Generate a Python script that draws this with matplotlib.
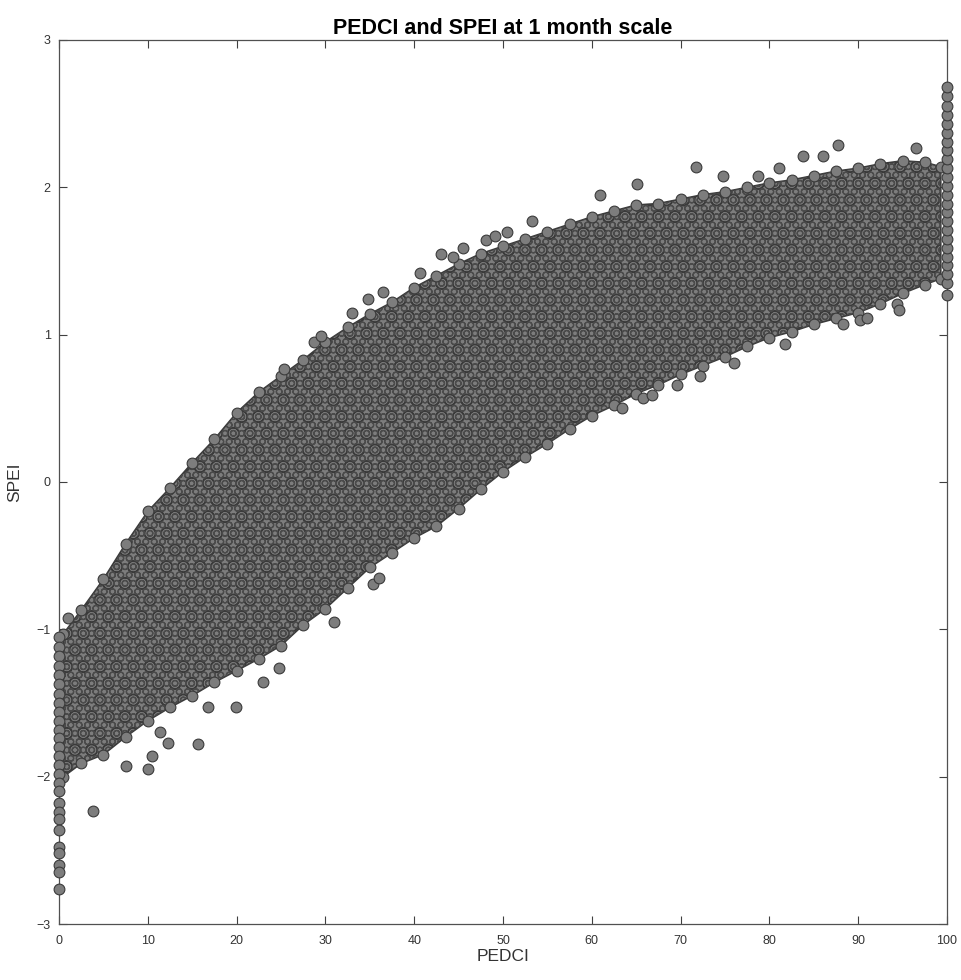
import matplotlib
matplotlib.use("Agg")
import matplotlib.pyplot as plt
import numpy as np

plt.rcParams['font.family'] = ['Liberation Sans', 'DejaVu Sans']
plt.rcParams['hatch.linewidth'] = 0.9

# ---- data ----
# core point-cloud envelope (PEDCI vs SPEI)
env_x = [0.5, 2.5, 5, 7.5, 10, 12.5, 15, 17.5, 20, 22.5, 25, 27.5, 30, 32.5, 35, 37.5,
         40, 42.5, 45, 47.5, 50, 52.5, 55, 57.5, 60, 62.5, 65, 67.5, 70, 72.5, 75,
         77.5, 80, 82.5, 85, 87.5, 90, 92.5, 95, 97.5, 99.3]
env_upper = [-1.03, -0.87, -0.66, -0.42, -0.20, -0.04, 0.13, 0.29, 0.47, 0.61, 0.72, 0.83,
             0.95, 1.05, 1.14, 1.22, 1.32, 1.40, 1.48, 1.55, 1.60, 1.65, 1.70, 1.75, 1.80,
             1.84, 1.88, 1.89, 1.92, 1.95, 1.97, 2.00, 2.03, 2.05, 2.08, 2.11, 2.13, 2.16,
             2.18, 2.17, 2.14]
env_lower = [-2.00, -1.91, -1.85, -1.73, -1.62, -1.53, -1.45, -1.36, -1.28, -1.20, -1.11,
             -0.97, -0.86, -0.72, -0.58, -0.48, -0.38, -0.30, -0.18, -0.05, 0.07, 0.17,
             0.26, 0.36, 0.45, 0.52, 0.60, 0.66, 0.73, 0.79, 0.85, 0.92, 0.98, 1.02, 1.07,
             1.11, 1.15, 1.21, 1.28, 1.34, 1.38]

# stacked points at PEDCI = 0 and PEDCI = 100
col0_y = [-1.05, -1.12, -1.18, -1.25, -1.31, -1.37, -1.44, -1.50, -1.56, -1.62, -1.68,
          -1.74, -1.80, -1.86, -1.92, -1.98, -2.04, -2.10, -2.18, -2.24, -2.29, -2.36,
          -2.48, -2.52, -2.60, -2.65, -2.76]
col100_y = [1.27, 1.35, 1.41, 1.47, 1.53, 1.59, 1.65, 1.71, 1.77, 1.83, 1.89, 1.95, 2.01,
            2.07, 2.13, 2.19, 2.25, 2.31, 2.37, 2.43, 2.49, 2.55, 2.62, 2.68]

# isolated points outside the dense cloud
out_x = [3.8, 7.5, 10.0, 10.5, 11.4, 12.3, 15.7, 16.8, 19.9, 23.0, 24.8, 31.0, 35.4, 36.0,
         63.4, 65.8, 66.8, 69.6, 72.2, 76.0, 81.8, 88.3, 90.2, 91.0, 94.4, 94.6,
         1.0, 25.3, 28.7, 29.5, 33.0, 34.8, 36.5, 40.7, 43.0, 44.4, 45.5, 48.1, 49.1,
         50.5, 53.3, 60.9, 65.1, 71.7, 74.8, 78.7, 81.1, 83.8, 86.0, 87.7, 96.5]
out_y = [-2.23, -1.93, -1.95, -1.86, -1.70, -1.77, -1.78, -1.53, -1.53, -1.36, -1.26, -0.95,
         -0.69, -0.65, 0.50, 0.57, 0.59, 0.66, 0.72, 0.81, 0.94, 1.07, 1.10, 1.11, 1.21, 1.17,
         -0.92, 0.77, 0.95, 0.99, 1.15, 1.24, 1.29, 1.42, 1.55, 1.53, 1.59, 1.64, 1.67,
         1.70, 1.77, 1.95, 2.02, 2.14, 2.08, 2.08, 2.13, 2.21, 2.21, 2.29, 2.27]

x_ticks = [0, 10, 20, 30, 40, 50, 60, 70, 80, 90, 100]
y_ticks = [-3, -2, -1, 0, 1, 2, 3]

# ---- drawing ----
face = '#7d7d7d'
edge = '#3a3a3a'
msize = 60

fig = plt.figure(figsize=(9.61, 9.80), dpi=100)
ax = fig.add_axes([59 / 961, 56 / 980, 888 / 961, 884 / 980])

# dense cloud region (overlapping markers rendered as a textured band)
ax.fill_between(env_x, env_lower, env_upper, facecolor=face, edgecolor=edge,
                linewidth=1.2, hatch='O', zorder=2)
ax.fill_between(env_x, env_lower, env_upper, facecolor='none', edgecolor='#4a4a4a',
                linewidth=0, hatch='OO', zorder=2)

ax.scatter(env_x, env_upper, s=msize, c=face, edgecolors=edge, linewidths=0.8, zorder=3)
ax.scatter(env_x, env_lower, s=msize, c=face, edgecolors=edge, linewidths=0.8, zorder=3)
ax.scatter(out_x, out_y, s=msize, c=face, edgecolors=edge, linewidths=0.8, zorder=3)
ax.scatter([0] * len(col0_y), col0_y, s=msize, c=face, edgecolors=edge, linewidths=0.8,
           zorder=3, clip_on=False)
ax.scatter([100] * len(col100_y), col100_y, s=msize, c=face, edgecolors=edge,
           linewidths=0.8, zorder=3, clip_on=False)

ax.set_xlim(0, 100)
ax.set_ylim(-3, 3)
ax.set_xticks(x_ticks)
ax.set_yticks(y_ticks)
ax.tick_params(direction='in', length=6, width=0.8, top=True, right=True,
               labelsize=9, colors='#404040', labelcolor='#333333', pad=6)
ax.tick_params(axis='x', pad=8)
for s in ax.spines.values():
    s.set_color('#505050')
    s.set_linewidth(0.9)

ax.set_title('PEDCI and SPEI at 1 month scale', fontsize=15.5, fontweight='bold', pad=4)
ax.set_xlabel('PEDCI', fontsize=12.5, color='#333333', labelpad=1)
ax.set_ylabel('SPEI', fontsize=12.5, color='#333333', labelpad=10)

fig.savefig('out.png', dpi=100)
